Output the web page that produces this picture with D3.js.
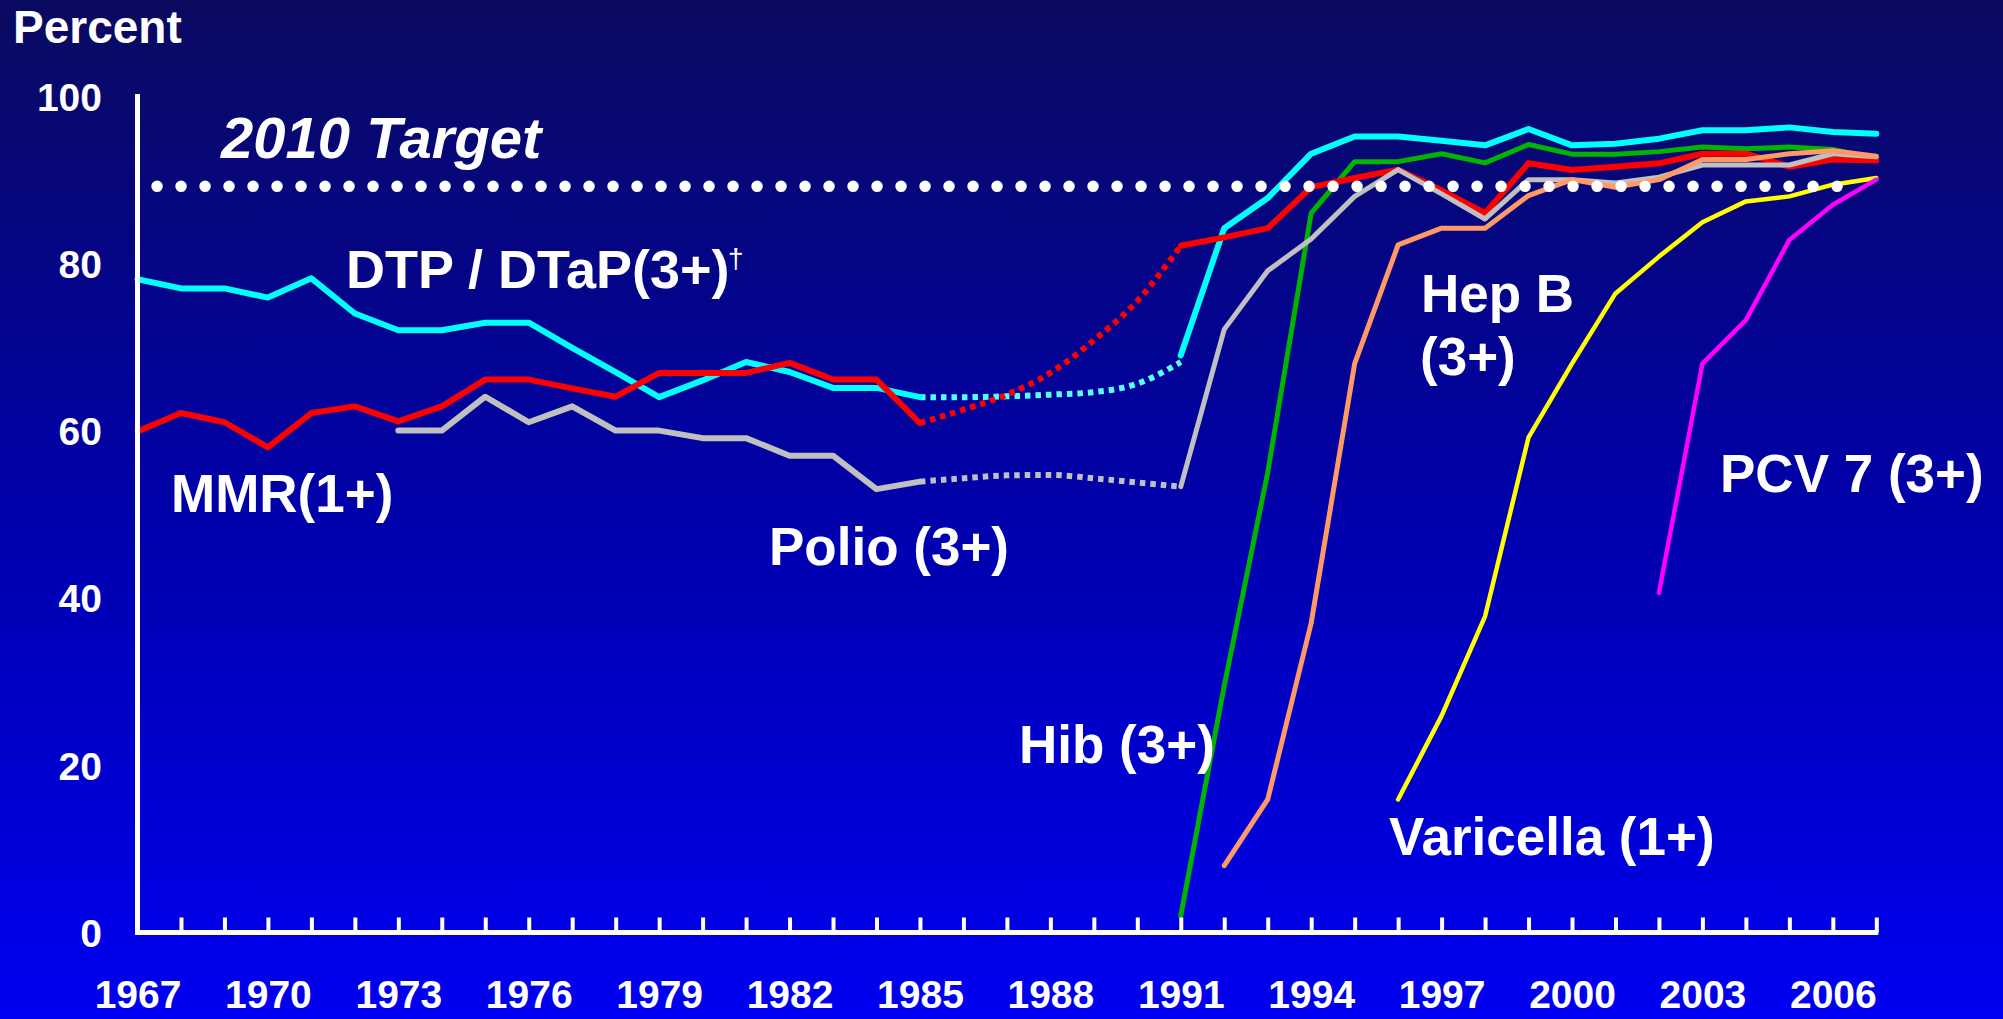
<!DOCTYPE html>
<html>
<head>
<meta charset="utf-8">
<script src="https://cdn.jsdelivr.net/npm/d3@7"></script>
<style>
  html, body { margin: 0; padding: 0; background: #0000A0; overflow: hidden; }
  svg { display: block; }
  text { font-family: "Liberation Sans", Arial, Helvetica, sans-serif; fill: #fff; }
</style>
</head>
<body>
<svg id="chart" width="2003" height="1019"></svg>
<script>
// ---------------- DATA ----------------
const yearsEarly  = [1967,1968,1969,1970,1971,1972,1973,1974,1975,1976,1977,1978,1979,1980,1981,1982,1983,1984,1985];
const yearsPolioEarly = [1973,1974,1975,1976,1977,1978,1979,1980,1981,1982,1983,1984,1985];
const yearsBridge = [1985,1986,1987,1988,1989,1990,1991];
const yearsLate   = [1991,1992,1993,1994,1995,1996,1997,1998,1999,2000,2001,2002,2003,2004,2005,2006,2007];
const yearsHepB   = [1992,1993,1994,1995,1996,1997,1998,1999,2000,2001,2002,2003,2004,2005,2006,2007];
const yearsVar    = [1996,1997,1998,1999,2000,2001,2002,2003,2004,2005,2006,2007];
const yearsPCV    = [2002,2003,2004,2005,2006,2007];

const dtpEarly  = [78.1,77.0,77.0,75.9,78.2,74.0,72.0,72.0,72.9,72.9,69.9,67.0,64.0,66.0,68.2,67.0,65.1,65.1,64.0];
const dtpBridge = [64.0,64.0,64.1,64.3,64.6,65.6,68.2];
const dtpLate   = [69.0,84.2,87.8,93.1,95.15,95.15,94.65,94.1,96.05,94.1,94.3,94.9,95.9,95.9,96.25,95.7,95.5];

const mmrEarly  = [59.9,62.1,61.0,58.0,62.1,62.9,61.1,62.9,66.1,66.1,65.05,64.05,66.9,66.9,66.9,68.1,66.1,66.1,60.9];
const mmrBridge = [60.9,62.5,64.3,66.9,70.8,75.5,82.1];
const mmrLate   = [82.1,83.1,84.2,89.1,90.2,91.2,88.7,86.0,91.95,91.15,91.55,91.95,93.1,93.1,91.55,92.4,92.3];

const polioEarly  = [60.0,60.0,64.05,61.0,62.9,60.0,60.0,59.1,59.1,57.0,57.0,53.0,53.9];
const polioBridge = [53.9,54.3,54.65,54.7,54.3,53.8,53.3];
const polioLate   = [53.3,72.1,79.1,82.9,88.0,91.2,88.3,85.3,90.0,90.0,89.6,90.3,91.75,91.75,91.75,93.1,92.75];

const hibLate   = [2.0,29.5,55.0,86.0,92.15,92.15,93.1,92.0,94.2,93.05,93.05,93.35,93.9,93.7,93.9,93.6,92.5];
const hepbLate  = [8.0,15.9,37.0,68.0,82.2,84.2,84.2,88.1,90.0,89.1,90.0,92.4,92.4,93.1,93.45,92.8];
const varLate   = [15.9,25.9,37.8,59.2,68.0,76.4,80.8,84.9,87.4,88.0,89.4,90.2];
const pcvLate   = [40.6,68.0,73.2,82.8,87.0,90.0];

const targetValue = 89.2;
const targetYears = [1967.45, 2006.13];

const yTicks = [0,20,40,60,80,100];
const xLabelYears = [1967,1970,1973,1976,1979,1982,1985,1988,1991,1994,1997,2000,2003,2006];
const xTickYears = [1968,1969,1970,1971,1972,1973,1974,1975,1976,1977,1978,1979,1980,1981,1982,1983,1984,1985,1986,1987,1988,1989,1990,1991,1992,1993,1994,1995,1996,1997,1998,1999,2000,2001,2002,2003,2004,2005,2006,2007];

// ---------------- CHART ----------------
const svg = d3.select("#chart");
const W = 2003, H = 1019;

const defs = svg.append("defs");
const grad = defs.append("linearGradient").attr("id","bg").attr("x1",0).attr("y1",0).attr("x2",0).attr("y2",1);
grad.append("stop").attr("offset","0%").attr("stop-color","#0A0A60");
grad.append("stop").attr("offset","50%").attr("stop-color","#0000AA");
grad.append("stop").attr("offset","100%").attr("stop-color","#0000F2");
svg.append("rect").attr("width",W).attr("height",H).attr("fill","url(#bg)");

const x = d3.scaleLinear().domain([1967,2007]).range([137.5,1876.3]);
const y = d3.scaleLinear().domain([0,100]).range([932.5,96]);

const lineStraight = d3.line().x(d=>x(d[0])).y(d=>y(d[1]));
const lineCurve = d3.line().x(d=>x(d[0])).y(d=>y(d[1])).curve(d3.curveMonotoneX);
const zip = (ys, vs) => ys.map((yr,i)=>[yr, vs[i]]);

const gLines = svg.append("g");

function drawDotted(years, vals, color){
  gLines.append("path").datum(zip(years, vals))
    .attr("d", lineCurve).attr("fill","none")
    .attr("stroke", color).attr("stroke-width",6)
    .attr("stroke-dasharray","5.5,5");
}
function drawSolid(years, vals, color, w){
  gLines.append("path").datum(zip(years, vals))
    .attr("d", lineStraight).attr("fill","none")
    .attr("stroke", color).attr("stroke-width", w)
    .attr("stroke-linejoin","round").attr("stroke-linecap","round");
}

const C = {dtp:"#00FFFF", dtpDot:"#55FFFF", mmr:"#FF0000", polio:"#C0C0C0", hib:"#00B400", hepb:"#FF9966", vari:"#FFFF00", pcv:"#FF00FF"};

// bridges (dotted)
drawDotted(yearsBridge, polioBridge, C.polio);
drawDotted(yearsBridge, dtpBridge, C.dtpDot);
drawDotted(yearsBridge, mmrBridge, C.mmr);

// early
drawSolid(yearsPolioEarly, polioEarly, C.polio, 6);
drawSolid(yearsEarly, dtpEarly, C.dtp, 6);
drawSolid(yearsEarly, mmrEarly, C.mmr, 6);

// late
drawSolid(yearsLate, dtpLate, C.dtp, 6);
drawSolid(yearsLate, hibLate, C.hib, 5);
drawSolid(yearsLate, mmrLate, C.mmr, 6);
drawSolid(yearsLate, polioLate, C.polio, 5);
drawSolid(yearsHepB, hepbLate, C.hepb, 5);
drawSolid(yearsVar, varLate, C.vari, 4.5);
drawSolid(yearsPCV, pcvLate, C.pcv, 4.5);

// target dotted line
svg.append("line")
  .attr("x1", x(targetYears[0])).attr("x2", x(targetYears[1]))
  .attr("y1", y(targetValue)).attr("y2", y(targetValue))
  .attr("stroke","#fff").attr("stroke-width",11.5)
  .attr("stroke-linecap","round").attr("stroke-dasharray","0,24");

// axes
const xTicksAxis = d3.axisBottom(x).tickValues(xTickYears).tickSize(-15).tickSizeOuter(0).tickFormat("");
const gx = svg.append("g").attr("transform",`translate(0,${y(0)})`).call(xTicksAxis);
gx.select(".domain").attr("stroke","#fff").attr("stroke-width",5).attr("d",`M${x(1967)-2.5},0H${x(2007)+2}`);
gx.selectAll(".tick line").attr("stroke","#fff").attr("stroke-width",4);

const xLabAxis = d3.axisBottom(x).tickValues(xLabelYears).tickSize(0).tickFormat(d3.format("d"));
const gxl = svg.append("g").attr("transform",`translate(0,${y(0)})`).call(xLabAxis);
gxl.select(".domain").remove();
gxl.selectAll("text").attr("y",75).attr("dy",0)
  .style("font-family",'"Liberation Sans", Arial, sans-serif')
  .style("font-size","39px").style("font-weight","bold").attr("fill","#fff");

const yAxis = d3.axisLeft(y).tickValues(yTicks).tickSize(0).tickPadding(35.5).tickSizeOuter(0);
const gy = svg.append("g").attr("transform",`translate(${x(1967)},0)`).call(yAxis);
gy.select(".domain").attr("stroke","#fff").attr("stroke-width",5).attr("d",`M0,${y(0)+2.5}V${y(100)-2}`);
gy.selectAll("text").attr("dy","0.36em")
  .style("font-family",'"Liberation Sans", Arial, sans-serif')
  .style("font-size","39px").style("font-weight","bold").attr("fill","#fff");

// texts
function label(txt, px, py, size, opts={}){
  return svg.append("text").attr("x",px).attr("y",py)
    .style("font-size",size+"px").style("font-weight",opts.weight||"bold")
    .style("font-style",opts.italic?"italic":"normal")
    .attr("fill","#fff").text(txt);
}
label("Percent", 13, 43, 46);
label("2010 Target", 221, 158, 58, {italic:true});
label("DTP / DTaP(3+)", 346, 288, 54);
label("\u2020", 728, 268, 28, {weight:"normal"});
label("MMR(1+)", 171, 512, 53);
label("Polio (3+)", 769, 565, 53);
label("Hep B", 1421, 312, 53);
label("(3+)", 1420, 375, 53);
label("Hib (3+)", 1019, 763, 53);
label("Varicella (1+)", 1389, 855, 53);
label("PCV 7 (3+)", 1720, 492, 53);
</script>
</body>
</html>
